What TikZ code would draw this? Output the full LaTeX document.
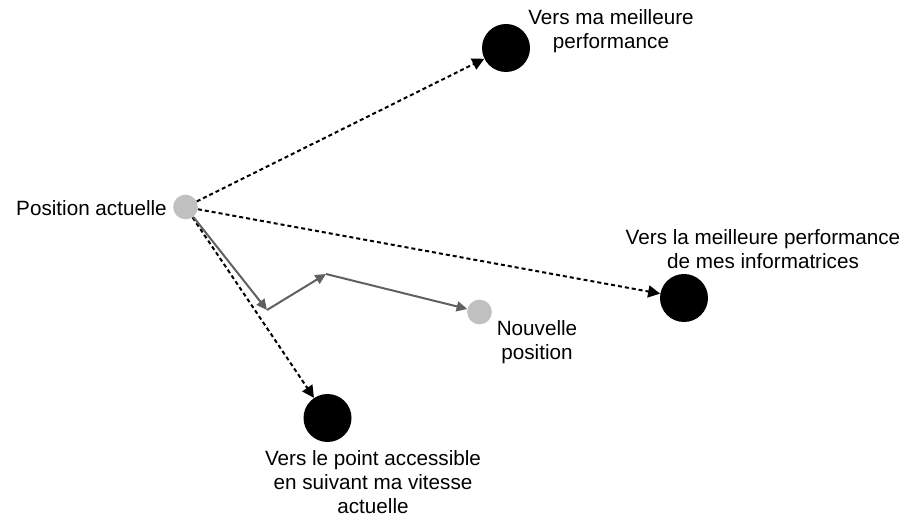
\documentclass[tikz,border=0pt]{standalone}
\usepackage{fontspec}
\setmainfont{Liberation Sans}
\usepackage{tikz}
\usetikzlibrary{arrows.meta}
\definecolor{dotgrey}{HTML}{C0C0C0}
\definecolor{linegrey}{HTML}{606060}

\begin{document}
\begin{tikzpicture}[x=0.75pt,y=-0.75pt,
    lbl/.style={align=center,font=\fontsize{15.5pt}{18pt}\selectfont,inner sep=0pt},
    target/.style={circle,fill=black,minimum size=36pt,inner sep=0pt},
    posdot/.style={circle,fill=dotgrey,minimum size=18.5pt,inner sep=0pt},
    pointille/.style={line width=1.5pt,dash pattern=on 3pt off 2.25pt,-{Triangle[length=9pt,width=9pt]}},
    trajet/.style={linegrey,line width=1.5pt,-{Triangle[length=8pt,width=7.5pt]}}]
    \useasboundingbox (0,0) rectangle (903,516);

    \node [posdot] (P0) at (185.5,207) {};
    \node [posdot] (P1) at (479.5,312) {};
    \node [target] (B1) at (506,48) {};
    \node [target] (B2) at (684,298) {};
    \node [target] (B3) at (327.5,418) {};
    \coordinate (C1) at (267,310);
    \coordinate (C2) at (326,274);

    \draw [pointille] (P0)--(B1);
    \draw [pointille] (P0)--(B2);
    \draw [pointille] (P0)--(B3);
    \draw [trajet] (P0)--(C1);
    \draw [trajet] (C1)--(C2);
    \draw [trajet] (C2)--(P1);

    \node [lbl,anchor=east] (L0) at (167,208) {Position actuelle};
    \node [lbl] (L1) at (611,31) {Vers ma meilleure\\performance};
    \node [lbl] (L2) at (763,249) {Vers la meilleure performance\\de mes informatrices};
    \node [lbl] (L3) at (537,342) {Nouvelle\\position};
    \node [lbl] (L4) at (373,482) {Vers le point accessible\\en suivant ma vitesse\\actuelle};
\end{tikzpicture}
\end{document}
